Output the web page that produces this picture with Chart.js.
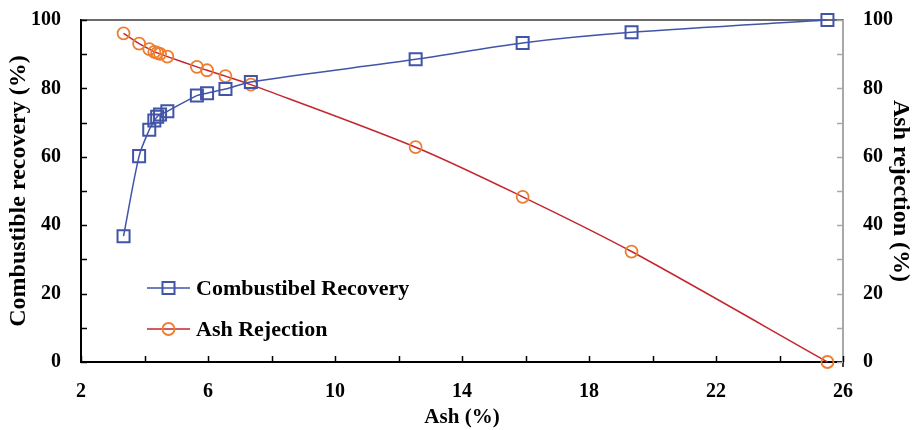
<!DOCTYPE html>
<html>
<head>
<meta charset="utf-8">
<script src="https://cdn.jsdelivr.net/npm/chart.js@4/dist/chart.umd.min.js"></script>
<style>
  html, body { margin: 0; padding: 0; background: #fff; }
  #wrap { width: 912px; height: 430px; position: relative; }
</style>
</head>
<body>
<div id="wrap"><canvas id="c" width="912" height="430"></canvas></div>
<script>
// ---- data ----
const ashPercent = [3.34, 3.83, 4.15, 4.31, 4.40, 4.49, 4.72, 5.65, 5.97, 6.55, 7.35, 12.54, 15.91, 19.34, 25.51];
const combustibleRecovery = [36.8, 60.2, 67.9, 70.6, 71.7, 72.4, 73.3, 77.9, 78.6, 79.8, 81.9, 88.5, 93.3, 96.4, 100];
const ashRejection = [96.1, 93.1, 91.5, 90.7, 90.4, 90.1, 89.3, 86.3, 85.3, 83.6, 81.1, 62.8, 48.3, 32.3, 0];
const seriesNames = ['Combustibel Recovery', 'Ash Rejection'];
const xTickLabels = [2, 6, 10, 14, 18, 22, 26];
const yTickLabels = [0, 20, 40, 60, 80, 100];
const axisTitles = { x: 'Ash (%)', yLeft: 'Combustible recovery (%)', yRight: 'Ash rejection (%)' };

const BLUE = '#4254a8';
const RED = '#c4262e';
const ORANGE = '#ee7d2e';
const SERIF = "'Liberation Serif', 'Times New Roman', serif";

const toPoints = (xs, ys) => xs.map((x, i) => ({ x: x, y: ys[i] }));

const tickFont = { family: SERIF, size: 20, weight: 'bold' };

const innerTicks = {
  id: 'innerTicks',
  beforeDatasetsDraw(chart) {
    const ctx = chart.ctx;
    const a = chart.chartArea;
    const sx = chart.scales.x, sy = chart.scales.y, sy2 = chart.scales.y2;
    ctx.save();
    // top border
    ctx.strokeStyle = '#3a3a3a';
    ctx.lineWidth = 1.5;
    ctx.beginPath();
    ctx.moveTo(a.left, a.top);
    ctx.lineTo(a.right, a.top);
    ctx.stroke();
    // left ticks (inward)
    ctx.strokeStyle = '#000';
    ctx.lineWidth = 1.5;
    sy.ticks.forEach(t => {
      const y = Math.round(sy.getPixelForValue(t.value)) + 0.5;
      ctx.beginPath(); ctx.moveTo(a.left, y); ctx.lineTo(a.left + 6, y); ctx.stroke();
    });
    // bottom ticks (inward)
    sx.ticks.forEach(t => {
      const x = Math.round(sx.getPixelForValue(t.value)) + 0.5;
      ctx.beginPath(); ctx.moveTo(x, a.bottom); ctx.lineTo(x, a.bottom - 6); ctx.stroke();
    });
    // small outward tick at right end of x axis
    ctx.beginPath(); ctx.moveTo(a.right, a.bottom); ctx.lineTo(a.right, a.bottom + 5); ctx.stroke();
    // right ticks (inward, gray)
    ctx.strokeStyle = '#a8a8a8';
    sy2.ticks.forEach(t => {
      const y = Math.round(sy2.getPixelForValue(t.value)) + 0.5;
      ctx.beginPath(); ctx.moveTo(a.right, y); ctx.lineTo(a.right - 6, y); ctx.stroke();
    });
    ctx.restore();
  }
};

const innerLegend = {
  id: 'innerLegend',
  afterDatasetsDraw(chart) {
    const ctx = chart.ctx;
    const a = chart.chartArea;
    const x0 = a.left + 66, x1 = a.left + 109, tx = a.left + 115;
    const rows = [a.top + 268, a.top + 309];
    ctx.save();
    chart.data.datasets.forEach((ds, i) => {
      const y = rows[i];
      const cx = (x0 + x1) / 2;
      ctx.strokeStyle = ds.borderColor;
      ctx.lineWidth = 1.5;
      ctx.beginPath(); ctx.moveTo(x0, y); ctx.lineTo(x1, y); ctx.stroke();
      ctx.strokeStyle = ds.pointBorderColor;
      ctx.lineWidth = ds.pointBorderWidth;
      ctx.beginPath();
      if (ds.pointStyle === 'rect') {
        const h = Math.SQRT1_2 * ds.pointRadius;
        ctx.rect(cx - h, y - h, 2 * h, 2 * h);
      } else {
        ctx.arc(cx, y, ds.pointRadius, 0, Math.PI * 2);
      }
      ctx.stroke();
      ctx.fillStyle = '#000';
      ctx.font = 'bold 22px ' + SERIF;
      ctx.textBaseline = 'middle';
      ctx.textAlign = 'left';
      ctx.fillText(ds.label, tx, y + 1);
    });
    ctx.restore();
  }
};

const noVPad = s => { s.paddingTop = 0; s.paddingBottom = 0; };

new Chart(document.getElementById('c'), {
  type: 'scatter',
  data: {
    datasets: [
      {
        label: seriesNames[0],
        data: toPoints(ashPercent, combustibleRecovery),
        yAxisID: 'y',
        showLine: true,
        borderColor: BLUE,
        borderWidth: 1.5,
        tension: 0.3,
        pointStyle: 'rect',
        pointRadius: 8.5,
        pointBorderWidth: 2,
        pointBorderColor: BLUE,
        pointBackgroundColor: 'rgba(0,0,0,0)',
        clip: false
      },
      {
        label: seriesNames[1],
        data: toPoints(ashPercent, ashRejection),
        yAxisID: 'y2',
        showLine: true,
        borderColor: RED,
        borderWidth: 1.5,
        tension: 0.3,
        pointStyle: 'circle',
        pointRadius: 6,
        pointBorderWidth: 1.8,
        pointBorderColor: ORANGE,
        pointBackgroundColor: 'rgba(0,0,0,0)',
        clip: false
      }
    ]
  },
  options: {
    responsive: false,
    animation: false,
    layout: { padding: { top: 20, left: 0, right: 0, bottom: 0 } },
    plugins: { legend: { display: false }, tooltip: { enabled: false } },
    scales: {
      x: {
        type: 'linear', min: 2, max: 26,
        afterFit: s => { s.height = 68; s.paddingLeft = 0; s.paddingRight = 0; },
        grid: { display: true, drawOnChartArea: false, drawTicks: false },
        border: { display: true, color: '#000', width: 2 },
        ticks: {
          stepSize: 2, autoSkip: false, maxRotation: 0, padding: 18,
          color: '#000', font: tickFont,
          callback: v => xTickLabels.includes(v) ? String(v) : ''
        },
        title: {
          display: true, text: axisTitles.x, color: '#000',
          font: { family: SERIF, size: 21, weight: 'bold', lineHeight: 1.2 },
          padding: { top: 0, bottom: 0 }
        }
      },
      y: {
        type: 'linear', position: 'left', min: 0, max: 100,
        afterFit: s => { s.width = 81; noVPad(s); },
        grid: { display: true, drawOnChartArea: false, drawTicks: false },
        border: { display: true, color: '#000', width: 2 },
        ticks: {
          stepSize: 10, autoSkip: false, padding: 20,
          color: '#000', font: tickFont,
          callback: v => yTickLabels.includes(v) ? String(v) : ''
        },
        title: {
          display: true, text: axisTitles.yLeft, color: '#000',
          font: { family: SERIF, size: 24, weight: 'bold', lineHeight: 1 },
          padding: { top: 7, bottom: 0 }
        }
      },
      y2: {
        type: 'linear', position: 'right', min: 0, max: 100,
        afterFit: s => { s.width = 69; noVPad(s); },
        grid: { display: true, drawOnChartArea: false, drawTicks: false },
        border: { display: true, color: '#a8a8a8', width: 2 },
        ticks: {
          stepSize: 10, autoSkip: false, padding: 20,
          color: '#000', font: tickFont,
          callback: v => yTickLabels.includes(v) ? String(v) : ''
        },
        title: {
          display: true, text: axisTitles.yRight, color: '#000',
          font: { family: SERIF, size: 24, weight: 'bold', lineHeight: 1 },
          padding: { top: 0, bottom: 0 }
        }
      }
    }
  },
  plugins: [innerTicks, innerLegend]
});
</script>
</body>
</html>
